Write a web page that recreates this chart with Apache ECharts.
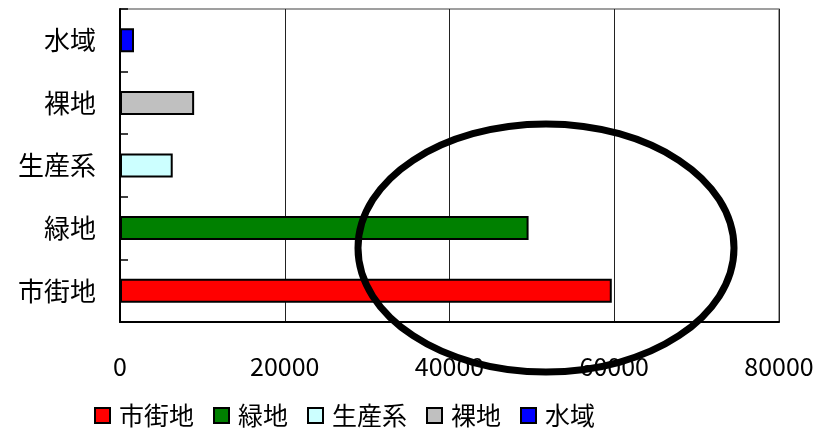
<!DOCTYPE html>
<html>
<head>
<meta charset="utf-8">
<script src="https://cdn.jsdelivr.net/npm/echarts@6/dist/echarts.min.js"></script>
<style>html,body{margin:0;padding:0;background:#fff}#c{width:819px;height:428px}</style>
</head>
<body>
<div id="c"></div>
<script>
const categories = ['市街地', '緑地', '生産系', '裸地', '水域'];
const values = [59700, 49600, 6400, 9000, 1700];
const colors = ['#ff0000', '#008000', '#ccffff', '#c0c0c0', '#0000ff'];
const xTicks = [0, 20000, 40000, 60000, 80000];

const FONT = '"Noto Sans CJK JP", sans-serif';
const chart = echarts.init(document.getElementById('c'), null, {renderer: 'canvas'});

const series = categories.map((name, i) => ({
  name: name,
  type: 'bar',
  stack: 'all',
  barWidth: 24,
  data: categories.map((c, j) => (j === i ? values[i] : '-')),
  itemStyle: {color: colors[i], borderColor: '#000', borderWidth: 2},
  emphasis: {disabled: true},
  z: 3
}));

chart.setOption({
  animation: false,
  backgroundColor: '#fff',
  textStyle: {fontFamily: FONT, color: '#000'},
  grid: {left: 120, right: 40, top: 9, bottom: 106, show: true, borderColor: '#808080', borderWidth: 1.5, containLabel: false},
  xAxis: {
    type: 'value', min: xTicks[0], max: xTicks[xTicks.length - 1], interval: 20000,
    axisLine: {show: true, lineStyle: {color: '#000', width: 2}},
    axisTick: {show: false},
    splitLine: {show: true, lineStyle: {color: '#222', width: 1}},
    axisLabel: {fontSize: 25, color: '#000', fontFamily: FONT, margin: 32, formatter: v => String(v)}
  },
  yAxis: {
    type: 'category', data: categories,
    axisLine: {show: true, lineStyle: {color: '#000', width: 2}},
    axisTick: {show: true, inside: true, length: 8, lineStyle: {color: '#000', width: 1.5}},
    axisLabel: {fontSize: 26, color: '#000', fontFamily: FONT, margin: 24}
  },
  legend: {
    data: categories,
    left: 89, top: 398,
    itemWidth: 15, itemHeight: 15, itemGap: 19,
    icon: 'rect',
    textStyle: {fontSize: 25, color: '#000', fontFamily: FONT, padding: [0, 0, 0, 4]},
    selectedMode: false
  },
  graphic: [{
    type: 'ellipse',
    shape: {cx: 546, cy: 248, rx: 188, ry: 124},
    style: {fill: 'none', stroke: '#000', lineWidth: 7},
    z: 100
  }],
  series: series
});
</script>
</body>
</html>
